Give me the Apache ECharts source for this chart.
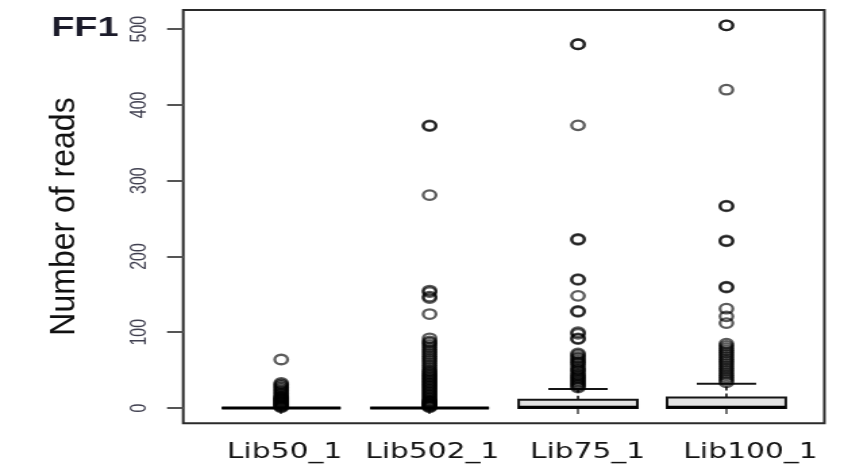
<!DOCTYPE html>
<html>
<head>
<meta charset="utf-8">
<script src="https://cdn.jsdelivr.net/npm/echarts@6/dist/echarts.min.js"></script>
<style>
html, body { margin: 0; padding: 0; background: #fff; overflow: hidden; }
#wrap { width: 848px; height: 469px; overflow: hidden; }
#c { width: 628px; height: 469px; transform: scaleX(1.3503); transform-origin: 0 0; }
</style>
</head>
<body>
<div id="wrap"><div id="c"></div></div>
<script>
// ---- data ----
const panelTitle = 'FF1';
const yAxisTitle = 'Number of reads';
const categories = ['Lib50_1', 'Lib502_1', 'Lib75_1', 'Lib100_1'];
const catPositions = [1, 2, 3, 4];
// label anchor positions along x (labels in the source sit slightly right of ticks)
const labelPositions = [1.023, 2.018, 3.064, 4.162];
const yTicks = [0, 100, 200, 300, 400, 500];
// box statistics: [min whisker, Q1, median, Q3, max whisker]
const boxLib50 = [0, 0, 0, 0, 0];
const boxLib502 = [0, 0, 0, 0, 0];
const boxLib75 = [0, 0, 1, 11, 25];
const boxLib100 = [0, 0, 1, 14, 32];
// outliers
const outLib50 = [64, 33, 31, 29, 27, 25, 23, 21, 19, 17, 15, 14, 13, 12, 11, 10, 9, 8, 7, 6, 5, 4, 3, 2, 1];
const outLib502 = [373, 372, 281, 155, 153, 147, 145, 124, 92, 88, 86, 83, 80, 77, 74, 71, 68, 65, 62, 59, 56, 53, 50, 48, 46, 44, 42, 40, 38, 36, 34, 32, 30, 28, 26, 24, 22, 20, 18, 16, 14, 12, 10, 9, 8, 7, 6, 5, 4, 3, 2, 1];
const outLib75 = [480, 480, 373, 223, 222, 170, 169, 148, 128, 127, 100, 98, 92, 91, 72, 70, 67, 65, 62, 60, 58, 55, 52, 50, 48, 45, 43, 41, 39, 37, 35, 33, 31, 29, 27];
const outLib100 = [505, 505, 420, 267, 266, 221, 220, 160, 159, 131, 121, 112, 85, 82, 79, 76, 73, 70, 67, 64, 61, 58, 55, 52, 49, 46, 43, 40, 37, 34];

const boxes = [boxLib50, boxLib502, boxLib75, boxLib100];
const outliers = [outLib50, outLib502, outLib75, outLib100];

const boxData = boxes.map((b, i) => [catPositions[i]].concat(b));
const outData = [];
outliers.forEach((arr, i) => arr.forEach(v => outData.push([catPositions[i], v])));

const BOX_W = 0.8, CAP_W = 0.4;

const chart = echarts.init(document.getElementById('c'), null, { renderer: 'canvas' });
chart.setOption({
  animation: false,
  backgroundColor: '#ffffff',
  title: {
    text: panelTitle, left: 33, top: 9,
    textStyle: { fontFamily: 'Liberation Sans, Arial, sans-serif', fontWeight: 'bold', fontSize: 28, color: '#1b1b2a' }
  },
  graphic: [{
    type: 'text',
    x: 48, y: 216.5,
    rotation: Math.PI / 2,
    scaleY: 0.8,
    silent: true,
    style: {
      text: yAxisTitle,
      font: '32px "Liberation Sans", Arial, sans-serif',
      fill: '#111',
      align: 'center',
      verticalAlign: 'middle'
    }
  }],
  grid: {
    left: 135.7, right: 17.5, top: 10, bottom: 45.7,
    show: true, borderColor: '#2a2a2a', borderWidth: 2, backgroundColor: 'transparent'
  },
  xAxis: [{
    type: 'value', min: 0.34, max: 4.66,
    splitLine: { show: false },
    axisLine: { show: false },
    axisTick: { show: true, inside: false, length: 6, customValues: catPositions, lineStyle: { color: '#444', width: 1.5 } },
    axisLabel: { show: false }
  }, {
    type: 'value', min: 0.34, max: 4.66, position: 'bottom',
    splitLine: { show: false },
    axisLine: { show: false },
    axisTick: { show: false },
    axisLabel: {
      show: true, margin: 18, customValues: labelPositions,
      fontFamily: 'DejaVu Sans, Verdana, sans-serif', fontSize: 22, color: '#141414',
      formatter: function (v) {
        for (let i = 0; i < labelPositions.length; i++) {
          if (Math.abs(labelPositions[i] - v) < 1e-6) return categories[i];
        }
        return '';
      }
    }
  }],
  yAxis: {
    type: 'value', min: -20.2, max: 525.2,
    splitLine: { show: false },
    axisLine: { show: false },
    axisTick: { show: true, inside: false, length: 12, customValues: yTicks, lineStyle: { color: '#555', width: 2 } },
    axisLabel: {
      show: true, rotate: 90, margin: 24, customValues: yTicks,
      fontFamily: 'Liberation Sans, Arial, sans-serif', fontSize: 16, color: '#404050'
    }
  },
  series: [{
    type: 'custom',
    xAxisIndex: 0, yAxisIndex: 0,
    data: boxData,
    silent: true,
    renderItem: function (params, api) {
      const x = api.value(0);
      const mn = api.value(1), q1 = api.value(2), md = api.value(3), q3 = api.value(4), mx = api.value(5);
      const w = api.size([BOX_W, 0])[0];
      const cw = api.size([CAP_W, 0])[0];
      const pMin = api.coord([x, mn]), pQ1 = api.coord([x, q1]), pMd = api.coord([x, md]);
      const pQ3 = api.coord([x, q3]), pMx = api.coord([x, mx]);
      const cx = pMd[0];
      const stroke = '#151515';
      return {
        type: 'group',
        children: [
          { type: 'line', shape: { x1: cx, y1: pQ3[1], x2: cx, y2: pMx[1] }, style: { stroke: stroke, lineWidth: 1.6, lineDash: [4, 3] } },
          { type: 'line', shape: { x1: cx, y1: pQ1[1], x2: cx, y2: pMin[1] }, style: { stroke: stroke, lineWidth: 1.6, lineDash: [4, 3] } },
          { type: 'line', shape: { x1: cx - cw / 2, y1: pMx[1], x2: cx + cw / 2, y2: pMx[1] }, style: { stroke: stroke, lineWidth: 2 } },
          { type: 'line', shape: { x1: cx - cw / 2, y1: pMin[1], x2: cx + cw / 2, y2: pMin[1] }, style: { stroke: stroke, lineWidth: 2 } },
          { type: 'rect', shape: { x: cx - w / 2, y: pQ3[1], width: w, height: pQ1[1] - pQ3[1] }, style: { fill: '#e2e2e2', stroke: stroke, lineWidth: 2 } },
          { type: 'line', shape: { x1: cx - w / 2, y1: pMd[1], x2: cx + w / 2, y2: pMd[1] }, style: { stroke: '#000', lineWidth: 3.2 } }
        ]
      };
    }
  }, {
    type: 'scatter',
    xAxisIndex: 0, yAxisIndex: 0,
    data: outData,
    symbol: 'circle',
    symbolSize: 9.5,
    silent: true,
    itemStyle: { color: 'rgba(0,0,0,0)', borderColor: 'rgba(0,0,0,0.8)', borderWidth: 2.3 }
  }]
});
</script>
</body>
</html>
